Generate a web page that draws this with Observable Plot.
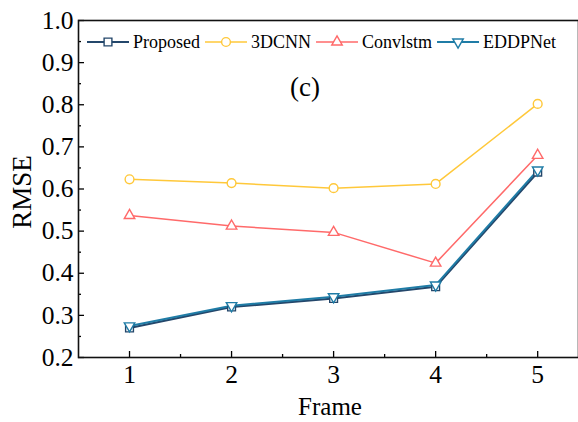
<!DOCTYPE html>
<html>
<head>
<meta charset="utf-8">
<script src="https://cdn.jsdelivr.net/npm/d3@7"></script>
<script src="https://cdn.jsdelivr.net/npm/@observablehq/plot@0.6"></script>
<style>
  html, body { margin: 0; padding: 0; background: white; }
  #wrap { position: relative; width: 578px; height: 422px; overflow: hidden; font-family: "Liberation Serif", "Times New Roman", serif; }
  #overlay { position: absolute; left: 0; top: 0; pointer-events: none; }
</style>
</head>
<body>
<div id="wrap"></div>
<script>
// ---- data ----
const frames = [1, 2, 3, 4, 5];
const seriesNames = ["Proposed", "3DCNN", "Convlstm", "EDDPNet"];
const proposed = [0.270, 0.320, 0.340, 0.368, 0.640];
const cnn3d    = [0.623, 0.614, 0.602, 0.612, 0.802];
const convlstm = [0.537, 0.512, 0.497, 0.424, 0.680];
const eddpnet  = [0.275, 0.323, 0.344, 0.372, 0.645];
const xTicks = [1, 2, 3, 4, 5];
const xMinorTicks = [1.5, 2.5, 3.5, 4.5];
const yTicks = [0.2, 0.3, 0.4, 0.5, 0.6, 0.7, 0.8, 0.9, 1.0];
const yMinorTicks = [0.25, 0.35, 0.45, 0.55, 0.65, 0.75, 0.85, 0.95];

// ---- styles ----
const triDown = {
  draw(ctx, size) {
    const y = -Math.sqrt(size / (Math.sqrt(3) * 3));
    ctx.moveTo(0, -y * 2);
    ctx.lineTo(-Math.sqrt(3) * y, y);
    ctx.lineTo(Math.sqrt(3) * y, y);
    ctx.closePath();
  }
};
const styles = {
  "Proposed": {color: "#24476b", symbol: "square", r: 4.4, width: 2.2},
  "3DCNN":    {color: "#ffc83a", symbol: "circle", r: 4.4, width: 1.5},
  "Convlstm": {color: "#ff6a6a", symbol: "triangle", r: 3.9, width: 1.5},
  "EDDPNet":  {color: "#1f7ca6", symbol: triDown, r: 3.9, width: 2.0}
};
const values = {"Proposed": proposed, "3DCNN": cnn3d, "Convlstm": convlstm, "EDDPNet": eddpnet};

const drawOrder = ["3DCNN", "Convlstm", "Proposed", "EDDPNet"];
const marks = [];
for (const name of drawOrder) {
  const s = styles[name];
  const rows = frames.map((f, i) => ({frame: f, rmse: values[name][i]}));
  marks.push(Plot.line(rows, {x: "frame", y: "rmse", stroke: s.color, strokeWidth: s.width}));
}
for (const name of drawOrder) {
  const s = styles[name];
  const rows = frames.map((f, i) => ({frame: f, rmse: values[name][i]}));
  marks.push(Plot.dot(rows, {x: "frame", y: "rmse", symbol: s.symbol, r: s.r, stroke: s.color, fill: "white", strokeWidth: 1.4}));
}

const chart = Plot.plot({
  width: 578,
  height: 422,
  marginLeft: 78,
  marginRight: 0,
  marginTop: 20,
  marginBottom: 65,
  style: {fontFamily: "Liberation Serif, Times New Roman, serif", color: "black", background: "white"},
  x: {domain: [0.5, 5.4]},
  y: {domain: [0.2, 1.0]},
  marks: [
    Plot.axisX({ticks: xMinorTicks, tickSize: -3, tickFormat: () => "", label: null, strokeWidth: 1.3}),
    Plot.axisX({ticks: xTicks, tickSize: -6, tickPadding: 13, tickFormat: d3.format("d"), fontSize: 25.5, label: null, strokeWidth: 1.3}),
    Plot.axisY({ticks: yMinorTicks, tickSize: -3, tickFormat: () => "", label: null, strokeWidth: 1.3}),
    Plot.axisY({ticks: yTicks, tickSize: -6, tickPadding: 11, tickFormat: d3.format(".1f"), fontSize: 25.5, label: null, strokeWidth: 1.3}),
    Plot.frame({stroke: "#111", strokeWidth: 1.6}),
    ...marks
  ]
});

const wrap = document.getElementById("wrap");
wrap.appendChild(chart);

// ---- overlay: titles, annotation, legend ----
const ov = d3.select(wrap).append("svg").attr("id", "overlay").attr("width", 578).attr("height", 422)
  .style("font-family", "Liberation Serif, Times New Roman, serif");

ov.append("text").attr("x", 0).attr("y", 0)
  .attr("transform", "translate(22,192) rotate(-90)")
  .attr("text-anchor", "middle").attr("dominant-baseline", "central")
  .attr("font-size", 27).attr("fill", "black").text("RMSE");

ov.append("text").attr("x", 330).attr("y", 415)
  .attr("text-anchor", "middle")
  .attr("font-size", 25).attr("fill", "black").text("Frame");

ov.append("text").attr("x", 305).attr("y", 96)
  .attr("text-anchor", "middle")
  .attr("font-size", 27).attr("fill", "black").text("(c)");

// legend
let lx = 87;
const ly = 42;
for (const name of seriesNames) {
  const s = styles[name];
  const g = ov.append("g");
  g.append("line").attr("x1", lx).attr("x2", lx + 42).attr("y1", ly).attr("y2", ly)
    .attr("stroke", s.color).attr("stroke-width", s.width);
  const sym = typeof s.symbol === "string"
    ? {square: d3.symbolSquare, circle: d3.symbolCircle, triangle: d3.symbolTriangle}[s.symbol]
    : s.symbol;
  g.append("path").attr("d", d3.symbol(sym, Math.PI * s.r * s.r)())
    .attr("transform", `translate(${lx + 21},${ly})`)
    .attr("fill", "white").attr("stroke", s.color).attr("stroke-width", 1.4);
  const t = g.append("text").attr("x", lx + 46).attr("y", ly)
    .attr("dominant-baseline", "central")
    .attr("font-size", 18).attr("fill", "black").text(name);
  lx = lx + 46 + t.node().getComputedTextLength() + 5;
}
</script>
</body>
</html>
